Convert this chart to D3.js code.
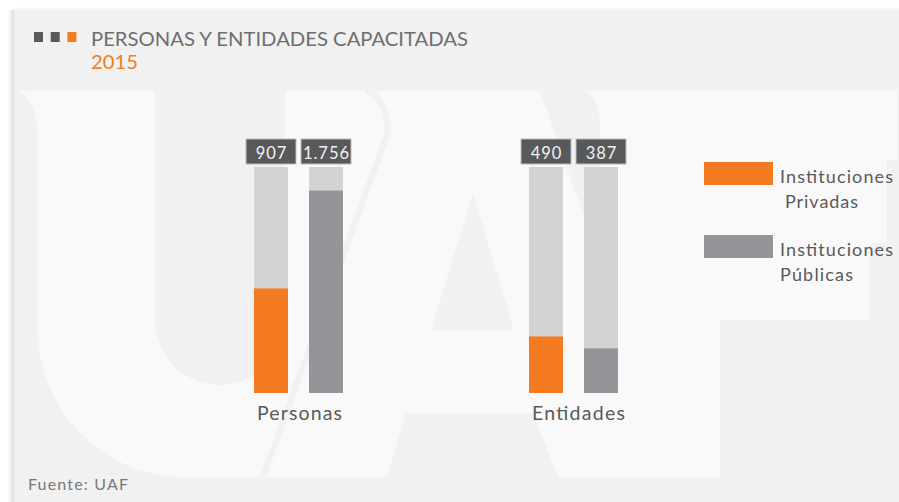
<!DOCTYPE html>
<html><head><meta charset="utf-8">
<script src="https://cdn.jsdelivr.net/npm/d3@7"></script>
<style>
html,body{margin:0;padding:0;background:#fff;}
svg{display:block;font-family:Lato,"Open Sans",sans-serif;}
</style></head>
<body>
<svg id="chart" width="899" height="502"></svg>
<script>
// ---- data ----
const categories = ["Personas", "Entidades"];
const seriesKeys = ["privadas", "publicas"];
const seriesNames = [["Instituciones", "Privadas"], ["Instituciones", "Públicas"]];
const privadas = [907, 490];
const publicas = [1756, 387];
const valueLabels = [["907", "1.756"], ["490", "387"]];
const escalaMax = 1960;
const titleText = "PERSONAS Y ENTIDADES CAPACITADAS";
const yearText = "2015";
const sourceText = "Fuente: UAF";

const ORANGE = "#f47b20", GRAY = "#939598", TRACK = "#d1d3d4", DARK = "#58595b";
const svg = d3.select("#chart");

// panel + shadow
const defs = svg.append("defs");
const lg = defs.append("linearGradient").attr("id","sh").attr("x1","0").attr("x2","1");
lg.append("stop").attr("offset","0").attr("stop-color","#000").attr("stop-opacity",0);
lg.append("stop").attr("offset","1").attr("stop-color","#000").attr("stop-opacity",0.13);
const lgt = defs.append("linearGradient").attr("id","sht").attr("x1","0").attr("x2","0").attr("y1","0").attr("y2","1");
lgt.append("stop").attr("offset","0").attr("stop-color","#000").attr("stop-opacity",0);
lgt.append("stop").attr("offset","1").attr("stop-color","#000").attr("stop-opacity",0.06);
svg.append("rect").attr("x",8).attr("y",10).attr("width",6).attr("height",492).attr("fill","url(#sh)");
svg.append("rect").attr("x",14).attr("y",7).attr("width",885).attr("height",3).attr("fill","url(#sht)");
svg.append("rect").attr("x",14).attr("y",10).attr("width",885).attr("height",492).attr("fill","#f1f1f1");

// watermark "UAF"
const wm = svg.append("g");
const WM = "#f9f9f9", BG = "#f1f1f1";
wm.append("path").attr("fill", WM)
  .attr("d","M17,91 L897,91 L897,160 L887,160 L887,243 L870,243 L870,320 L720,320 L720,477 L180,477 A147,147 0 0 1 38,330 L38,140 Q37,96 17,91 Z");
wm.append("path").attr("fill", BG).attr("d","M155,91 L285,91 L285,320 A65,65 0 0 1 155,320 Z");
wm.append("path").attr("fill","none").attr("stroke",BG).attr("stroke-width",6)
  .attr("d","M366,91 Q390,100 387,135 L263,477");
wm.append("path").attr("fill", BG).attr("d","M473,193 L514,330 L431,330 Z");
wm.append("path").attr("fill", BG).attr("d","M406,413 L533,413 L558,477 L387,477 Z");
wm.append("path").attr("fill", BG).attr("d","M540,91 L583,91 Q600,95 600,125 L600,262 Z");

// title
svg.selectAll("rect.sq").data([DARK, DARK, ORANGE]).join("rect").attr("class","sq")
  .attr("x",(d,i)=>34+i*16.7).attr("y",32).attr("width",9).attr("height",10).attr("fill",d=>d);
svg.append("text").attr("x",91).attr("y",46).attr("font-size",19).attr("fill","#6d6e71")
  .attr("textLength",377).attr("lengthAdjust","spacingAndGlyphs").text(titleText);
svg.append("text").attr("x",91).attr("y",69).attr("font-size",19).attr("fill",ORANGE)
  .attr("textLength",47).attr("lengthAdjust","spacingAndGlyphs").text(yearText);

// scales
const x0 = d3.scaleBand().domain(categories).range([161, 711]);
const x1 = d3.scaleBand().domain(seriesKeys).range([-44.5, 44.5]).paddingInner(21/55);
const y = d3.scaleLinear().domain([0, escalaMax]).range([393, 167]);
const color = d3.scaleOrdinal().domain(seriesKeys).range([ORANGE, GRAY]);

const rows = categories.map((c,i)=>({cat:c, vals:[
  {key:"privadas", v:privadas[i], label:valueLabels[i][0]},
  {key:"publicas", v:publicas[i], label:valueLabels[i][1]}]}));

const g = svg.selectAll("g.cat").data(rows).join("g").attr("class","cat")
  .attr("transform", d=>`translate(${x0(d.cat)+x0.bandwidth()/2},0)`);

const bars = g.selectAll("g.bar").data(d=>d.vals).join("g").attr("class","bar");
bars.append("rect").attr("x",d=>x1(d.key)).attr("width",x1.bandwidth())
  .attr("y",y(escalaMax)).attr("height",y(0)-y(escalaMax)).attr("fill",TRACK);
bars.append("rect").attr("x",d=>x1(d.key)).attr("width",x1.bandwidth())
  .attr("y",d=>y(d.v)).attr("height",d=>y(0)-y(d.v)).attr("fill",d=>color(d.key));
// value boxes
bars.append("rect").attr("x",d=>x1(d.key)+x1.bandwidth()/2-25).attr("y",139)
  .attr("width",50).attr("height",25).attr("fill",DARK).attr("stroke","#bcbdbf").attr("stroke-width",1);
bars.append("text").attr("x",d=>x1(d.key)+x1.bandwidth()/2+0.5).attr("y",158.5)
  .attr("text-anchor","middle").attr("font-size",16.5).attr("fill","#f2f2f2")
  .attr("letter-spacing",1).text(d=>d.label);

// category labels
g.append("text").attr("x",(d)=>x1("privadas")+3).attr("y",420)
  .attr("font-size",19.5).attr("fill","#58595b")
  .attr("textLength",(d,i)=>i===0?85:93).attr("lengthAdjust","spacing")
  .text(d=>d.cat);

// legend
const leg = svg.selectAll("g.leg").data(seriesKeys).join("g").attr("class","leg")
  .attr("transform",(d,i)=>`translate(704,${162+i*73})`);
leg.append("rect").attr("width",69).attr("height",23).attr("fill",d=>color(d));
leg.each(function(d,i){
  const t = d3.select(this);
  t.append("text").attr("x",76).attr("y",21).attr("font-size",18).attr("fill","#58595b")
    .attr("textLength",113).attr("lengthAdjust","spacing").text(seriesNames[i][0]);
  t.append("text").attr("x",i===0?81:76).attr("y",46).attr("font-size",18).attr("fill","#58595b")
    .attr("textLength",73).attr("lengthAdjust","spacing").text(seriesNames[i][1]);
});

// source
svg.append("text").attr("x",28).attr("y",490).attr("font-size",16).attr("fill","#77787b")
  .attr("textLength",100).attr("lengthAdjust","spacing").text(sourceText);
</script>
</body></html>
